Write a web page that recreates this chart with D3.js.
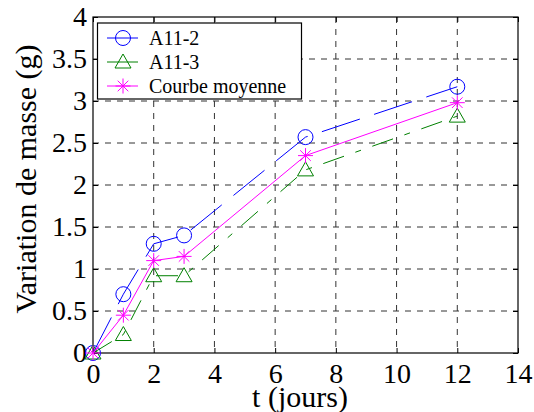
<!DOCTYPE html>
<html>
<head>
<meta charset="utf-8">
<script src="https://cdn.jsdelivr.net/npm/d3@7"></script>
<style>
  html, body { margin: 0; padding: 0; background: #fff; }
  svg { display: block; }
</style>
</head>
<body>
<svg id="chart" width="534" height="412"></svg>
<script>
// Mass change over time for two samples and their mean curve
const days = [0, 1, 2, 3, 7, 12];
const a112 = [0, 0.70, 1.30, 1.40, 2.57, 3.17];
const a113 = [0, 0.22, 0.92, 0.92, 2.18, 2.82];
const moyenne = [0, 0.45, 1.10, 1.15, 2.35, 2.98];
const xTicks = [0, 2, 4, 6, 8, 10, 12, 14];
const yTicks = [0, 0.5, 1, 1.5, 2, 2.5, 3, 3.5, 4];
const seriesNames = ["A11-2", "A11-3", "Courbe moyenne"];

const FONT = '"Liberation Serif"';
const svg = d3.select("#chart");
const plotL = 93, plotR = 518, plotT = 17, plotB = 353;

const x = d3.scaleLinear().domain([0, 14]).range([plotL, plotR]);
const y = d3.scaleLinear().domain([0, 4]).range([plotB, plotT]);

// Dashed grid
const grid = svg.append("g");
grid.selectAll("line.vx").data(xTicks.slice(1, -1)).join("line")
  .attr("x1", d => x(d)).attr("x2", d => x(d))
  .attr("y1", plotT).attr("y2", plotB)
  .attr("stroke", "#333").attr("stroke-width", 1).attr("stroke-dasharray", "6,6");
grid.selectAll("line.hy").data(yTicks.slice(1, -1)).join("line")
  .attr("x1", plotL).attr("x2", plotR)
  .attr("y1", d => y(d)).attr("y2", d => y(d))
  .attr("stroke", "#333").attr("stroke-width", 1).attr("stroke-dasharray", "6,6");

// Axes (ticks pointing inward, box around the plot)
const fmt = d => String(d);
svg.append("g").attr("transform", `translate(0,${plotB})`)
  .call(d3.axisBottom(x).tickValues(xTicks).tickFormat(fmt).tickSizeInner(-5).tickSizeOuter(0).tickPadding(10))
  .call(g => g.select(".domain").remove());
svg.append("g").attr("transform", `translate(${plotL},0)`)
  .call(d3.axisLeft(y).tickValues(yTicks).tickFormat(fmt).tickSizeInner(-5).tickSizeOuter(0).tickPadding(6))
  .call(g => g.select(".domain").remove());
svg.append("g").attr("transform", `translate(0,${plotT})`)
  .call(d3.axisTop(x).tickValues(xTicks).tickFormat("").tickSizeInner(-5).tickSizeOuter(0))
  .call(g => g.select(".domain").remove());
svg.append("g").attr("transform", `translate(${plotR},0)`)
  .call(d3.axisRight(y).tickValues(yTicks).tickFormat("").tickSizeInner(-5).tickSizeOuter(0))
  .call(g => g.select(".domain").remove());
svg.selectAll(".tick line").attr("stroke", "#000");
svg.selectAll(".tick text").style("font-family", FONT).style("font-size", "28px").attr("fill", "#000");

svg.append("rect")
  .attr("x", plotL).attr("y", plotT).attr("width", plotR - plotL).attr("height", plotB - plotT)
  .attr("fill", "none").attr("stroke", "#000").attr("stroke-width", 1.2);

// Series
const series = [
  { name: seriesNames[0], values: a112, color: "#0000ff", dash: "40,15", marker: "circle" },
  { name: seriesNames[1], values: a113, color: "#008000", dash: "22,12,6,12", marker: "triangle" },
  { name: seriesNames[2], values: moyenne, color: "#ff00ff", dash: null, marker: "star" }
];

const line = d3.line().x(d => x(d[0])).y(d => y(d[1]));

function drawMarker(g, type, color) {
  if (type === "circle") {
    g.append("circle").attr("r", 7.5).attr("fill", "none").attr("stroke", color).attr("stroke-width", 1);
  } else if (type === "triangle") {
    g.append("path").attr("d", "M0,-8 L8,6 L-8,6 Z").attr("fill", "none").attr("stroke", color).attr("stroke-width", 1);
  } else {
    const s = 7.5, t = 5.3;
    g.append("path")
      .attr("d", `M${-s},0L${s},0M0,${-s}L0,${s}M${-t},${-t}L${t},${t}M${-t},${t}L${t},${-t}`)
      .attr("fill", "none").attr("stroke", color).attr("stroke-width", 1);
  }
}

series.forEach(s => {
  const pts = days.map((d, i) => [d, s.values[i]]);
  svg.append("path").datum(pts)
    .attr("d", line).attr("fill", "none")
    .attr("stroke", s.color).attr("stroke-width", 1)
    .attr("stroke-dasharray", s.dash);
  pts.forEach(p => {
    const g = svg.append("g").attr("transform", `translate(${x(p[0])},${y(p[1])})`);
    drawMarker(g, s.marker, s.color);
  });
});

// Legend
const lg = svg.append("g");
lg.append("rect").attr("x", 97.5).attr("y", 23).attr("width", 204).attr("height", 76)
  .attr("fill", "#fff").attr("stroke", "#000").attr("stroke-width", 1.2);
const rowsY = [38, 62, 86];
series.forEach((s, i) => {
  lg.append("line").attr("x1", 107).attr("x2", 138).attr("y1", rowsY[i]).attr("y2", rowsY[i])
    .attr("stroke", s.color).attr("stroke-width", 1);
  const g = lg.append("g").attr("transform", `translate(123,${rowsY[i]})`);
  drawMarker(g, s.marker, s.color);
  lg.append("text").attr("x", 149).attr("y", rowsY[i] + 7)
    .style("font-family", FONT).style("font-size", "20px").text(s.name);
});

// Axis titles
svg.append("text").attr("x", 300).attr("y", 407).attr("text-anchor", "middle")
  .style("font-family", FONT).style("font-size", "30px").text("t (jours)");
svg.append("text")
  .attr("transform", "translate(36,179) rotate(-90)")
  .attr("text-anchor", "middle").style("font-family", FONT).style("font-size", "30px")
  .text("Variation de masse (g)");
</script>
</body>
</html>
